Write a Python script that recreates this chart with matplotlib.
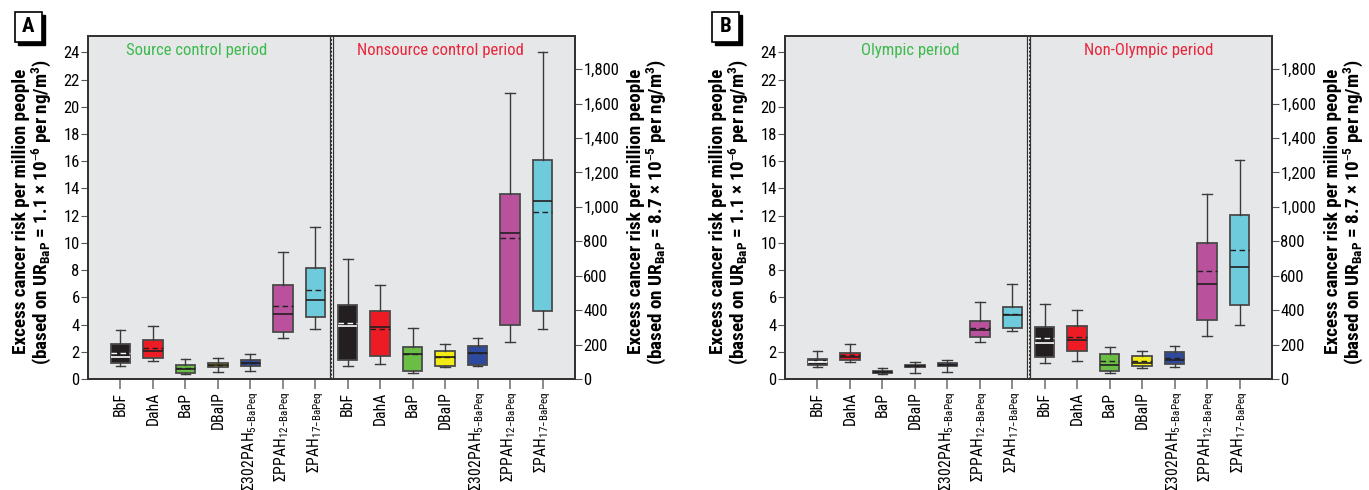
import matplotlib.pyplot as plt
from matplotlib.patches import Rectangle
from matplotlib.ticker import FuncFormatter, MultipleLocator

plt.rcParams['font.family'] = ['Roboto Condensed', 'DejaVu Sans']
plt.rcParams['mathtext.default'] = 'regular'

compounds = ['BbF', 'DahA', 'BaP', 'DBaIP',
             'Σ302PAH$_{5{-}BaPeq}$', 'ΣPPAH$_{12{-}BaPeq}$', 'ΣPAH$_{17{-}BaPeq}$']
box_colors = ['#231f20', '#ed1c24', '#6abd45', '#f2eb14', '#2e4a9e', '#b9519c', '#6dcbdc']
median_colors = ['white', '#231f20', '#231f20', '#231f20', '#231f20', '#231f20', '#231f20']

# rows: whislo, q1, median, mean, q3, whishi  (per million, UR = 1.1e-6)
source_control = [
    [0.98, 1.17, 1.59, 1.93, 2.55, 3.57],
    [1.30, 1.55, 2.05, 2.30, 2.87, 3.90],
    [0.40, 0.47, 0.70, 0.80, 1.03, 1.45],
    [0.50, 0.85, 1.00, 1.03, 1.17, 1.55],
    [0.60, 0.95, 1.17, 1.20, 1.38, 1.82],
    [3.00, 3.45, 4.78, 5.35, 6.90, 9.30],
    [3.68, 4.55, 5.80, 6.55, 8.15, 11.15],
]
nonsource_control = [
    [0.93, 1.40, 3.93, 4.13, 5.45, 8.82],
    [1.10, 1.70, 3.83, 3.68, 5.03, 6.93],
    [0.44, 0.61, 1.84, 1.84, 2.33, 3.73],
    [0.86, 0.93, 1.62, 1.58, 2.06, 2.55],
    [0.93, 1.03, 1.89, 1.89, 2.40, 3.02],
    [2.73, 3.95, 10.76, 10.37, 13.56, 20.98],
    [3.71, 5.03, 13.07, 12.28, 16.07, 24.03],
]
olympic = [
    [0.90, 1.03, 1.22, 1.30, 1.47, 2.05],
    [1.24, 1.39, 1.61, 1.76, 1.93, 2.60],
    [0.34, 0.41, 0.50, 0.52, 0.61, 0.78],
    [0.41, 0.85, 0.93, 0.95, 1.03, 1.22],
    [0.51, 0.92, 1.05, 1.10, 1.19, 1.36],
    [2.71, 3.05, 3.61, 3.78, 4.29, 5.68],
    [3.52, 3.78, 4.69, 4.78, 5.27, 6.96],
]
non_olympic = [
    [1.21, 1.58, 2.66, 3.03, 3.82, 5.48],
    [1.32, 2.06, 2.88, 3.07, 3.89, 5.06],
    [0.45, 0.62, 1.02, 1.32, 1.81, 2.33],
    [0.82, 0.97, 1.17, 1.30, 1.66, 2.08],
    [0.87, 1.09, 1.36, 1.54, 1.99, 2.45],
    [3.18, 4.34, 6.97, 7.94, 9.97, 13.56],
    [3.97, 5.43, 8.26, 9.47, 12.03, 16.07],
]

panels = [
    ('A', 88, [(source_control, 'Source control period', '#3dba4e', 3.36),
               (nonsource_control, 'Nonsource control period', '#e8263c', 10.86)]),
    ('B', 785, [(olympic, 'Olympic period', '#3dba4e', 3.87),
                (non_olympic, 'Non-Olympic period', '#e8263c', 11.2)]),
]

right_factor = 8.7e-5 / 1.1e-6
ymax = 25.2
W, H = 1369, 490
fig = plt.figure(figsize=(W / 100, H / 100), dpi=100)

left_label = ('Excess cancer risk per million people\n'
              '(based on UR$_{BaP}$ = 1.1 × 10$^{–6}$ per ng/m$^3$)')
right_label = ('Excess cancer risk per million people\n'
               '(based on UR$_{BaP}$ = 8.7 × 10$^{–5}$ per ng/m$^3$)')

for letter, left_px, periods in panels:
    ax = fig.add_axes([left_px / W, (H - 379) / H, 487 / W, 343 / H])
    ax.set_facecolor('#e6e7e8')
    ax.set_xlim(0, 15)
    ax.set_ylim(0, ymax)

    for k, (rows, title, tcolor, tx) in enumerate(periods):
        stats = []
        for r in rows:
            stats.append(dict(whislo=r[0], q1=r[1], med=r[2], mean=r[3], q3=r[4], whishi=r[5]))
        pos = [i + 1 + 7 * k for i in range(7)]
        bp = ax.bxp(stats, positions=pos, widths=0.6, patch_artist=True,
                    showmeans=True, meanline=True, showfliers=False,
                    boxprops=dict(edgecolor='#4a4a4a', linewidth=1.3),
                    whiskerprops=dict(color='#3a3a3a', linewidth=1.0),
                    capprops=dict(color='#3a3a3a', linewidth=1.0),
                    medianprops=dict(linewidth=1.2),
                    meanprops=dict(linestyle=(0, (4, 2.5)), linewidth=1.0))
        for i in range(7):
            bp['boxes'][i].set_facecolor(box_colors[i])
            bp['medians'][i].set_color(median_colors[i])
            bp['means'][i].set_color(median_colors[i])
        ax.text(tx, 24.15, title, color=tcolor, fontsize=12, ha='center', va='center')

    # divider between the two periods
    ax.axvspan(7.44, 7.56, color='white', zorder=3)
    ax.axvline(7.44, color='#333333', lw=0.9, zorder=4)
    ax.axvline(7.56, color='#333333', lw=0.9, zorder=4)
    ax.axvline(7.5, color='#333333', lw=0.8, ls=(0, (2, 1.5)), zorder=4)

    ax.set_xticks(range(1, 15))
    ax.set_xticklabels(compounds * 2, rotation=90, fontsize=11.3)
    ax.tick_params(axis='x', length=7, color='#777777', width=1.2, pad=2)
    ax.yaxis.set_major_locator(MultipleLocator(2))
    ax.tick_params(axis='y', length=5, color='#555555', labelsize=12, pad=1)
    for s in ax.spines.values():
        s.set_color('#333333')
        s.set_linewidth(1.4)
    ax.set_ylabel(left_label, fontsize=13.8, fontweight='bold', linespacing=1.0)
    ax.yaxis.set_label_coords(-0.072, 0.488)

    ax2 = ax.twinx()
    ax2.set_ylim(0, ymax * right_factor)
    ax2.set_yticks(range(0, 1801, 200))
    ax2.yaxis.set_major_formatter(FuncFormatter(lambda v, p: f'{int(v):,}'))
    ax2.tick_params(axis='y', length=5, color='#555555', labelsize=12, pad=1)
    for s in ax2.spines.values():
        s.set_color('#333333')
        s.set_linewidth(1.4)
    ax2.set_ylabel(right_label, fontsize=13.8, fontweight='bold', linespacing=1.0)
    ax2.yaxis.set_label_coords(1.107, 0.488)

    # boxed panel letter with shadow
    bx = (left_px - 73) / W
    by = (H - 42) / H
    bw, bh = 27 / W, 30 / H
    fig.patches.append(Rectangle((bx + 3 / W, by - 3 / H), bw, bh, transform=fig.transFigure,
                                 facecolor='black', edgecolor='black', figure=fig))
    fig.patches.append(Rectangle((bx, by), bw, bh, transform=fig.transFigure,
                                 facecolor='white', edgecolor='black', lw=1.2, figure=fig))
    fig.text(bx + bw / 2, by + bh / 2, letter, fontsize=15, fontweight='bold',
             ha='center', va='center')

fig.savefig('out.png', dpi=100)
